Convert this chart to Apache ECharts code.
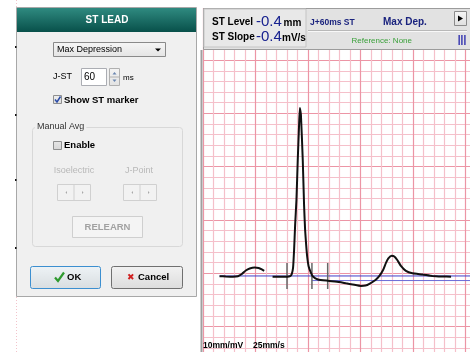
<!DOCTYPE html>
<html>
<head>
<meta charset="utf-8">
<script src="https://cdn.jsdelivr.net/npm/echarts@6/dist/echarts.min.js"></script>
<style>
html, body { margin: 0; padding: 0; background: #fff; }
#main { width: 470px; height: 352px; }
</style>
</head>
<body>
<div id="main"></div>
<script>
// ECG beat, time in ms (25mm/s -> 40ms per small box), amplitude in mV (10mm/mV)
const pWaveMs = [63, 87, 114, 133, 148, 163, 178, 197, 212, 224, 233];
const pWaveMv = [-0.027, -0.030, -0.032, -0.028, -0.007, 0.026, 0.045, 0.054, 0.050, 0.036, 0.022];

const qrstMs = [265, 292, 320, 332, 338, 343, 347, 351, 356, 361, 366, 369, 373, 380, 385, 389, 393, 397,
  402, 410, 419, 438, 476, 520, 545, 570, 602, 619, 634, 657, 672, 687, 697, 706, 719, 729, 740,
  754, 773, 798, 836, 874, 911, 945];
const qrstMv = [-0.032, -0.032, -0.032, -0.027, -0.007, 0.050, 0.219, 0.454, 0.689, 1.065, 1.394, 1.551, 1.488,
  1.065, 0.642, 0.407, 0.266, 0.153, 0.069, 0.012, -0.030, -0.058, -0.070, -0.082, -0.094, -0.105, -0.119,
  -0.115, -0.099, -0.063, -0.025, 0.036, 0.097, 0.139, 0.164, 0.158, 0.125, 0.069, 0.022, 0.000, -0.011,
  -0.025, -0.030, -0.032];

// isoelectric point, J point, J+60ms
const markerMs = [320, 415, 475];
const markerSpanMv = [-0.148, 0.097];

const baselineMv = -0.025;
const baselineSpanMs = [63, 1200];
const stLevelMv = -0.068;
const stLineSpanMs = [415, 1200];

const zip = (xs, ys) => xs.map((x, i) => [x, ys[i]]);

const font = 'Liberation Sans, Arial, sans-serif';
function txt(x, y, text, size, color, opts) {
  opts = opts || {};
  return {
    type: 'text', x: x, y: y, z: 20,
    style: {
      text: text,
      font: (opts.bold ? 'bold ' : '') + size + 'px ' + font,
      fill: color,
      align: opts.align || 'left',
      verticalAlign: 'middle'
    }
  };
}
function box(x, y, w, h, fill, stroke, r) {
  return {
    type: 'rect', z: 15,
    shape: { x: x, y: y, width: w, height: h, r: r || 0 },
    style: { fill: fill, stroke: stroke || null, lineWidth: 1 }
  };
}
function line(x1, y1, x2, y2, color, w, z) {
  return {
    type: 'line', z: z || 16,
    shape: { x1: x1, y1: y1, x2: x2, y2: y2 },
    style: { stroke: color, lineWidth: w || 1 }
  };
}
function tri(points, color) {
  return { type: 'polygon', z: 17, shape: { points: points }, style: { fill: color } };
}
function grad(c1, c2) {
  return new echarts.graphic.LinearGradient(0, 0, 0, 1, [{ offset: 0, color: c1 }, { offset: 1, color: c2 }]);
}

const ui = [
  // white strip above the info bar
  box(199, 0, 271, 8, '#ffffff'),
  // dotted guide at the far left
  { type: 'line', z: 14, shape: { x1: 16.5, y1: 0, x2: 16.5, y2: 352 },
    style: { stroke: '#f2c4cb', lineWidth: 1, lineDash: [1, 2] } },
  // dialog
  box(16.5, 7.5, 180, 289, '#f0f0f0', '#a8a8a8'),
  box(17, 8, 179, 24, grad('#2f8a80', '#08504a')),
  txt(107, 20, 'ST LEAD', 10, '#ffffff', { bold: true, align: 'center' }),
  box(15, 46, 1.5, 2, '#111'), box(15, 114, 1.5, 2, '#111'),
  box(15, 179, 1.5, 2, '#111'), box(15, 247, 1.5, 2, '#111'),
  // dropdown
  box(53.5, 42.5, 112, 14, grad('#f6f6f6', '#e4e4e4'), '#8a8a8a'),
  txt(57, 49.5, 'Max Depression', 9, '#000'),
  tri([[155, 48.5], [161, 48.5], [158, 51.5]], '#000'),
  // J-ST
  txt(53, 77, 'J-ST', 9, '#000'),
  box(81.5, 68.5, 25, 17, '#ffffff', '#abadb3'),
  txt(84, 77, '60', 10, '#000'),
  box(109.5, 68.5, 10, 17, grad('#f4f4f4', '#e2e2e2'), '#b0b0b0'),
  line(109.5, 77, 119.5, 77, '#b0b0b0'),
  tri([[112.5, 74.5], [116.5, 74.5], [114.5, 72]], '#6a86b0'),
  tri([[112.5, 79.5], [116.5, 79.5], [114.5, 82]], '#6a86b0'),
  txt(123, 78, 'ms', 8, '#000'),
  // show ST marker
  box(53.5, 95.5, 8, 8, grad('#f0f0f0', '#dcdcdc'), '#8e8f8f'),
  { type: 'polyline', z: 18, shape: { points: [[55, 99.5], [57, 102], [60.5, 96.5]] },
    style: { stroke: '#2a4ba8', lineWidth: 1.5, fill: null } },
  txt(64, 100, 'Show ST marker', 9.5, '#000', { bold: true }),
  // manual avg group
  box(32.5, 127.5, 150, 119, null, '#d8d8d8', 3),
  { type: 'text', x: 35, y: 127, z: 20,
    style: { text: 'Manual Avg', font: '9px ' + font, fill: '#333', verticalAlign: 'middle',
      backgroundColor: '#f0f0f0', padding: [0, 2] } },
  box(53.5, 141.5, 8, 8, grad('#e6e6e6', '#d6d6d6'), '#8e8f8f'),
  txt(64, 145.5, 'Enable', 9.5, '#000', { bold: true }),
  txt(74, 171, 'Isoelectric', 9, '#b8b8b8', { align: 'center' }),
  txt(139, 171, 'J-Point', 9, '#b8b8b8', { align: 'center' }),
  box(57.5, 184.5, 33, 16, '#f2f2f2', '#d0d0d0'), line(74, 184.5, 74, 200.5, '#d0d0d0'),
  box(123.5, 184.5, 33, 16, '#f2f2f2', '#d0d0d0'), line(140, 184.5, 140, 200.5, '#d0d0d0'),
  tri([[67, 191], [67, 194], [65.5, 192.5]], '#a8a8a8'), tri([[82, 191], [82, 194], [83.5, 192.5]], '#a8a8a8'),
  tri([[133, 191], [133, 194], [131.5, 192.5]], '#a8a8a8'), tri([[148, 191], [148, 194], [149.5, 192.5]], '#a8a8a8'),
  box(72.5, 216.5, 70, 21, '#f4f4f4', '#cfcfcf'),
  txt(107.5, 227, 'RELEARN', 9.5, '#a2a2a2', { bold: true, align: 'center' }),
  // OK / Cancel
  box(30.5, 266.5, 70, 22, grad('#eef3f6', '#d8dde0'), '#3c8fd0', 2),
  { type: 'polyline', z: 18, shape: { points: [[55, 277.5], [58, 281], [64, 272.5]] },
    style: { stroke: '#2f9a2f', lineWidth: 2.2, fill: null } },
  txt(67, 277.5, 'OK', 9.5, '#000', { bold: true }),
  box(111.5, 266.5, 71, 22, grad('#f2f2f2', '#dcdcdc'), '#707070', 2),
  txt(131, 277.5, '\u2716', 9, '#d02020', { align: 'center' }),
  txt(138, 277.5, 'Cancel', 9.5, '#000', { bold: true }),

  // info bar
  box(203.5, 8.5, 270, 41, '#e2e2e2', '#9c9c9c'),
  box(204, 9, 102, 38, '#e8e8e8', '#c4c4c4'),
  txt(212, 22.5, 'ST Level', 10, '#000', { bold: true }),
  txt(256, 22, '-0.4', 15, '#18228f'),
  txt(283.5, 23, 'mm', 10, '#000', { bold: true }),
  txt(212, 37.5, 'ST Slope', 10, '#000', { bold: true }),
  txt(256, 37, '-0.4', 15, '#18228f'),
  txt(282, 38, 'mV/s', 10, '#000', { bold: true }),
  txt(310, 22.5, 'J+60ms ST', 8.5, '#1a237e', { bold: true }),
  txt(383, 22.5, 'Max Dep.', 10, '#1a237e', { bold: true }),
  line(308, 30.5, 467, 30.5, '#b8b8b8'), line(308, 31.5, 467, 31.5, '#f8f8f8'),
  box(454.5, 11.5, 12, 14, grad('#f6f6f6', '#dedede'), '#8a8a8a'),
  tri([[458, 15.5], [458, 21.5], [463, 18.5]], '#000'),
  txt(351.5, 40.5, 'Reference: None', 8, '#3aa03a'),
  txt(462, 40.5, '|||', 10, '#1c1ca8', { bold: true, align: 'center' }),
  // chart border + scale text
  line(201.5, 50, 201.5, 352, '#a0a0a0', 2),
  txt(203, 345.5, '10mm/mV', 8.5, '#000', { bold: true }),
  txt(253, 345.5, '25mm/s', 8.5, '#000', { bold: true })
];

const markerSeries = markerMs.map(ms => ({
  type: 'line', data: [[ms, markerSpanMv[0]], [ms, markerSpanMv[1]]],
  showSymbol: false, silent: true, z: 4,
  lineStyle: { color: '#666', width: 1.5 }
}));

const chart = echarts.init(document.getElementById('main'), null, { renderer: 'canvas' });
chart.setOption({
  animation: false,
  backgroundColor: '#ffffff',
  grid: { left: 203, top: 6.8, width: 315, height: 373.1, containLabel: false, outerBoundsMode: 'none' },
  xAxis: {
    type: 'value', min: 0, max: 1200, interval: 200,
    axisLine: { show: false }, axisTick: { show: false }, axisLabel: { show: false },
    splitLine: { show: true, lineStyle: { color: '#ec95a5', width: 1.2 } },
    minorTick: { show: false, splitNumber: 5 },
    minorSplitLine: { show: true, lineStyle: { color: '#f5c0ca', width: 1.2 } }
  },
  yAxis: {
    type: 'value', min: -1.0, max: 2.5, interval: 0.5,
    axisLine: { show: false }, axisTick: { show: false }, axisLabel: { show: false },
    splitLine: { show: true, lineStyle: { color: '#ec95a5', width: 1.2 } },
    minorTick: { show: false, splitNumber: 5 },
    minorSplitLine: { show: true, lineStyle: { color: '#f5c0ca', width: 1.2 } }
  },
  series: [
    { type: 'line', data: [[baselineSpanMs[0], baselineMv], [baselineSpanMs[1], baselineMv]],
      showSymbol: false, z: 3, lineStyle: { color: '#3f3fc8', width: 1 } },
    { type: 'line', data: [[stLineSpanMs[0], stLevelMv], [stLineSpanMs[1], stLevelMv]],
      showSymbol: false, z: 3, lineStyle: { color: '#6a6ad8', width: 1 } },
    ...markerSeries,
    { type: 'line', data: zip(pWaveMs, pWaveMv), showSymbol: false, z: 5, smooth: 0.2,
      lineStyle: { color: '#111', width: 2 } },
    { type: 'line', data: zip(qrstMs, qrstMv), showSymbol: false, z: 5, smooth: 0.15,
      lineStyle: { color: '#111', width: 2 } }
  ],
  graphic: ui
});
</script>
</body>
</html>
